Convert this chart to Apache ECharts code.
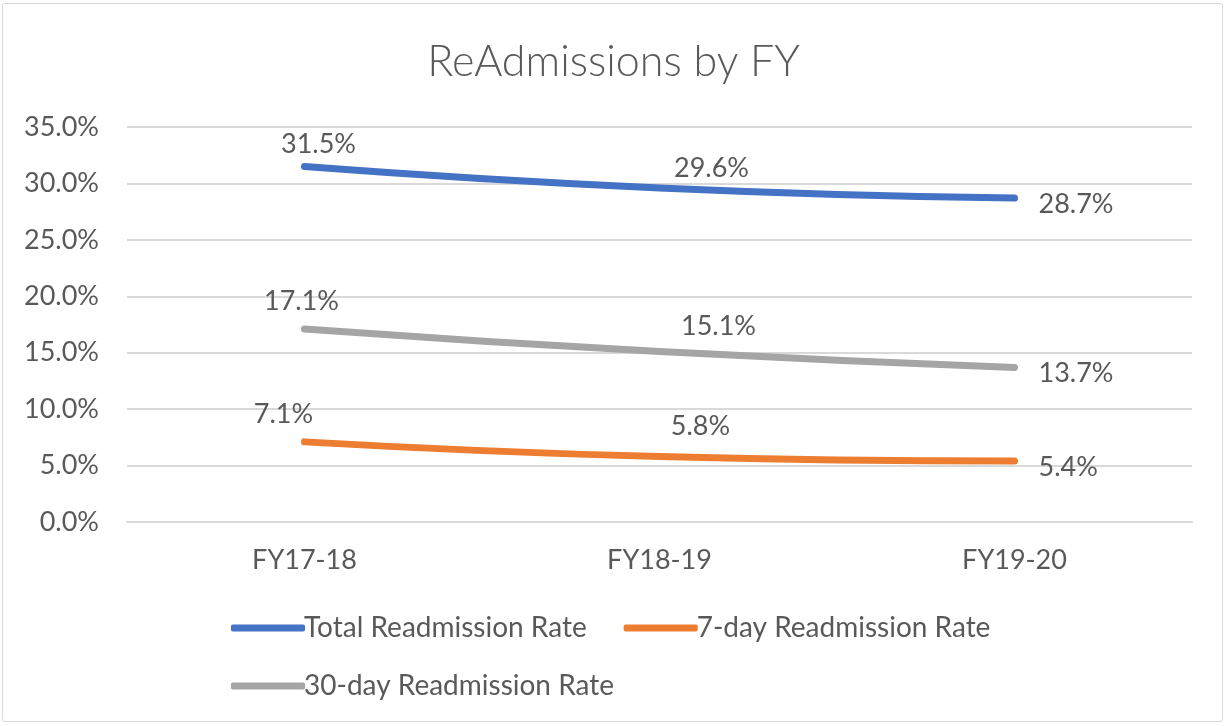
<!DOCTYPE html>
<html><head><meta charset="utf-8">
<script src="https://cdn.jsdelivr.net/npm/echarts@6/dist/echarts.min.js"></script>
<style>
html,body{margin:0;padding:0;background:#fff;}
#frame{position:absolute;left:2px;top:3px;width:1221px;height:719px;border:1px solid #d9d9d9;border-radius:3px;box-sizing:border-box;}
#chart{position:absolute;left:0;top:0;width:1227px;height:726px;}
</style></head>
<body>
<div id="frame"></div>
<div id="chart"></div>
<script>
var categories = ['FY17-18', 'FY18-19', 'FY19-20'];
var totalRate = [31.5, 29.6, 28.7];
var sevenDayRate = [7.1, 5.8, 5.4];
var thirtyDayRate = [17.1, 15.1, 13.7];
var seriesNames = ['Total Readmission Rate', '7-day Readmission Rate', '30-day Readmission Rate'];

var FONT = 'Lato, "Open Sans", sans-serif';
var TXT = '#595959';
var FS = 27;

// layout only: label centre offsets (px) from each point, per series (last point sits to the right)
var labelOffsets = [
  [[14, -22], [52, -20]],
  [[-21, -28], [41, -30]],
  [[-3, -28], [59, -25]]
];

function buildData(vals, si) {
  return vals.map(function (v, i) {
    var last = i === vals.length - 1;
    var lab = last
      ? {show: true, position: 'right', distance: 24, offset: [0, 6]}
      : {show: true, position: 'inside', offset: labelOffsets[si][i]};
    return {value: v, label: lab};
  });
}

var colors = ['#4472C4', '#ED7D31', '#A5A5A5'];
var values = [totalRate, sevenDayRate, thirtyDayRate];

var chart = echarts.init(document.getElementById('chart'));
chart.setOption({
  animation: false,
  title: {
    text: 'ReAdmissions by FY', left: 'center', top: 36,
    textStyle: {color: TXT, fontSize: 43, fontWeight: 300, fontFamily: FONT}
  },
  grid: {left: 127, right: 35, top: 127, bottom: 204},
  legend: [{
    data: [seriesNames[0], seriesNames[1]],
    left: 226, top: 609, icon: 'roundRect', itemWidth: 74, itemHeight: 7, itemGap: 37,
    textStyle: {color: TXT, fontSize: 28, fontFamily: FONT, padding: [0, 0, 0, -6]}
  }, {
    data: [seriesNames[2]],
    left: 226, top: 667, icon: 'roundRect', itemWidth: 74, itemHeight: 7,
    textStyle: {color: TXT, fontSize: 28, fontFamily: FONT, padding: [0, 0, 0, -6]}
  }],
  xAxis: {
    type: 'category', data: categories, boundaryGap: true,
    axisLine: {show: true, lineStyle: {color: '#d9d9d9', width: 2}},
    axisTick: {show: false},
    axisLabel: {color: TXT, fontSize: FS, fontFamily: FONT, margin: 25}
  },
  yAxis: {
    type: 'value', min: 0, max: 35, interval: 5,
    axisLine: {show: false}, axisTick: {show: false},
    splitLine: {lineStyle: {color: '#d9d9d9', width: 2}},
    axisLabel: {color: TXT, fontSize: FS, fontFamily: FONT, margin: 28,
      formatter: function (v) { return v.toFixed(1) + '%'; }}
  },
  series: values.map(function (vals, i) {
    return {
      name: seriesNames[i], type: 'line', smooth: true, data: buildData(vals, i),
      symbol: 'circle', symbolSize: 0, showSymbol: true, color: colors[i],
      itemStyle: {color: colors[i]},
      lineStyle: {width: 7, color: colors[i], cap: 'round'},
      label: {color: TXT, fontSize: FS, fontFamily: FONT,
        formatter: function (p) { return p.value.toFixed(1) + '%'; }}
    };
  })
});
</script>
</body></html>
